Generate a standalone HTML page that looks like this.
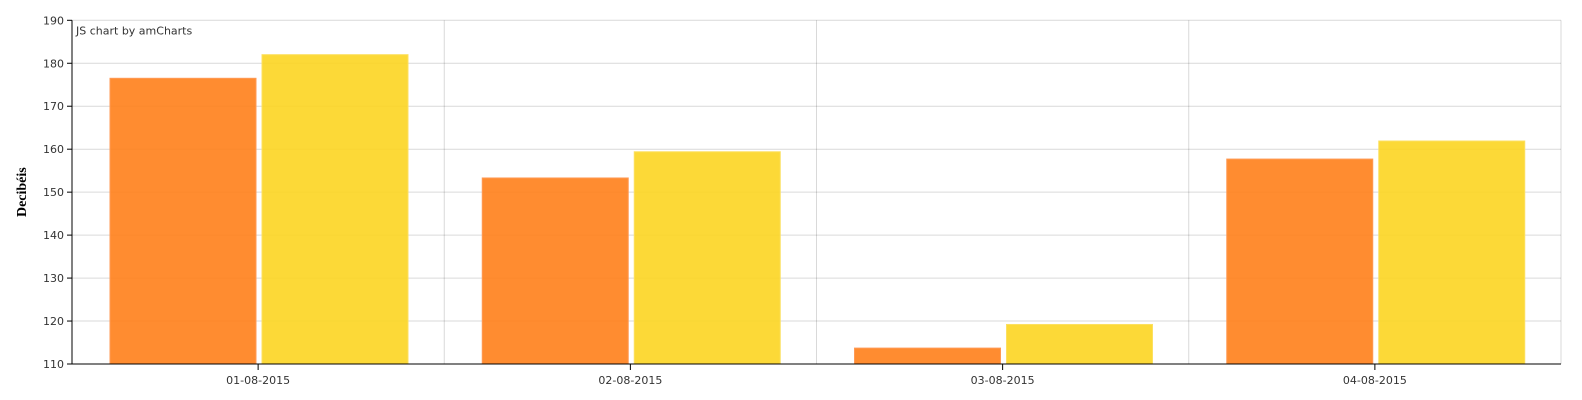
<!DOCTYPE html>
<html><head><meta charset="utf-8"><style>
html,body{margin:0;padding:0;background:#fff;width:1582px;height:400px;overflow:hidden}
text{font-family:"DejaVu Sans","Liberation Sans",sans-serif;font-size:11px;fill:#333}
</style></head><body>
<svg id="chart" width="1582" height="400" xmlns="http://www.w3.org/2000/svg"></svg>
<script>
const categories = ["01-08-2015","02-08-2015","03-08-2015","04-08-2015"];
const seriesA = [176.5, 153.3, 113.7, 157.7];
const seriesB = [182.0, 159.4, 119.2, 161.9];
const yTicks = [110,120,130,140,150,160,170,180,190];

const svg = document.getElementById('chart');
const NS = 'http://www.w3.org/2000/svg';
const L = 72, R = 1561, T = 20.3, B = 364, yMin = 110, yMax = 190;
const catW = (R - L) / categories.length;
const y = v => B - (v - yMin) / (yMax - yMin) * (B - T);
const xCat = i => L + i * catW;
function mk(tag, attrs){const e=document.createElementNS(NS,tag);for(const k in attrs)e.setAttribute(k,attrs[k]);svg.appendChild(e);return e;}

yTicks.forEach(t=>{
  const g = mk('line',{x1:L,x2:R,y1:y(t),y2:y(t),stroke:'#000','stroke-opacity':0.15});
  
  
  mk('line',{x1:L-5,x2:L,y1:y(t),y2:y(t),stroke:'#000'});
  const tx = mk('text',{x:L-8,y:y(t)+4,'text-anchor':'end'});
  tx.textContent = t;
  
  
});
for(let i=1;i<=categories.length;i++){
  mk('line',{x1:xCat(i),x2:xCat(i),y1:T,y2:B,stroke:'#000','stroke-opacity':0.15});
}
const bw = 146, off = 38, gap = 6;
categories.forEach((c,i)=>{
  const x0 = xCat(i)+off;
  const a = mk('rect',{x:x0,y:y(seriesA[i]),width:bw,height:B-y(seriesA[i]),fill:'#FF7F1A','fill-opacity':0.9,stroke:'#FF9A55','stroke-width':1});
  
  
  const b = mk('rect',{x:x0+bw+gap,y:y(seriesB[i]),width:bw,height:B-y(seriesB[i]),fill:'#FCD521','fill-opacity':0.9,stroke:'#FCE060','stroke-width':1});
  
  
  const cx = xCat(i)+catW/2;
  mk('line',{x1:cx,x2:cx,y1:B,y2:B+6,stroke:'#000'});
  const tx = mk('text',{x:cx,y:B+20,'text-anchor':'middle'});
  tx.textContent = c;
  
  
});
mk('line',{x1:L,x2:L,y1:T,y2:B,stroke:'#000'});
mk('line',{x1:L,x2:R,y1:B,y2:B,stroke:'#000'});
const cr = mk('text',{x:L+4,y:T+14});
cr.textContent='JS chart by amCharts';


const yt = mk('text',{x:26,y:(T+B)/2,'text-anchor':'middle',transform:'rotate(-90 26 '+((T+B)/2)+')',style:'font-family:"Liberation Serif",serif;font-weight:bold;font-size:14px;fill:#000'});
yt.textContent='Decibéis';


</script>
</body></html>
